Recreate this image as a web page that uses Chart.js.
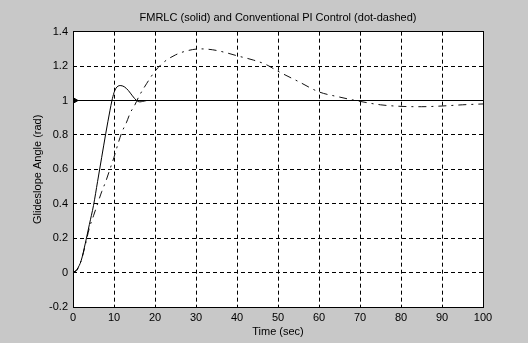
<!DOCTYPE html>
<html>
<head>
<meta charset="utf-8">
<script src="https://cdn.jsdelivr.net/npm/chart.js@4"></script>
<style>
  html, body { margin: 0; padding: 0; background: #c8c8c8; }
  #wrap { width: 528px; height: 343px; }
</style>
</head>
<body>
<div id="wrap"><canvas id="chart"></canvas></div>
<script>
// FMRLC response (solid)
const fmrlcTime  = [0, 1, 2, 3, 4, 5, 6, 7, 8, 9, 9.5, 10, 10.5, 11.5, 12.5, 13.5, 14.5, 15.5, 16.3, 17, 18];
const fmrlcAngle = [0, 0.02, 0.07, 0.17, 0.28, 0.39, 0.53, 0.67, 0.81, 0.94, 1.0, 1.045, 1.072, 1.087, 1.08, 1.058, 1.027, 1.0, 0.992, 0.995, 1.0];

// conventional PI response (dot-dashed)
const piTime  = [0, 1, 2, 3, 4, 5, 6, 7, 8, 9, 10, 11, 12, 13, 14, 15, 16, 18, 20, 22, 25, 28, 31, 34, 37, 40, 44, 47, 50, 55, 60, 65, 70, 75, 80, 85, 90, 95, 100];
const piAngle = [0, 0.015, 0.07, 0.16, 0.26, 0.33, 0.40, 0.47, 0.53, 0.60, 0.67, 0.75, 0.82, 0.87, 0.93, 0.97, 1.02, 1.10, 1.17, 1.22, 1.265, 1.29, 1.30, 1.295, 1.28, 1.26, 1.235, 1.21, 1.17, 1.11, 1.05, 1.02, 0.995, 0.975, 0.966, 0.964, 0.968, 0.975, 0.98];

// reference glideslope
const refTime  = [0, 100];
const refAngle = [1, 1];

const xTicks = [0, 10, 20, 30, 40, 50, 60, 70, 80, 90, 100];
const yTicks = [-0.2, 0, 0.2, 0.4, 0.6, 0.8, 1, 1.2, 1.4];

const toPoints = (xs, ys) => xs.map((x, i) => ({ x: x, y: ys[i] }));
const crisp = p => Math.round(p - 0.5) + 0.5;

const frame = {
  id: 'frame',
  beforeDraw(chart) {
    const a = chart.chartArea, ctx = chart.ctx;
    ctx.save();
    ctx.fillStyle = '#c8c8c8';
    ctx.fillRect(0, 0, chart.width, chart.height);
    ctx.fillStyle = '#ffffff';
    ctx.fillRect(a.left, a.top, a.right - a.left, a.bottom - a.top);
    ctx.restore();
  },
  afterDraw(chart) {
    const a = chart.chartArea, ctx = chart.ctx;
    const l = crisp(a.left), r = crisp(a.right), t = crisp(a.top), b = crisp(a.bottom);
    ctx.save();
    ctx.strokeStyle = '#000';
    ctx.lineWidth = 1;
    ctx.setLineDash([]);
    ctx.strokeRect(l, t, r - l, b - t);
    ctx.restore();
  }
};

Chart.defaults.font.family = '"Liberation Sans", Arial, sans-serif';
Chart.defaults.font.size = 11;
Chart.defaults.color = '#000';

new Chart(document.getElementById('chart'), {
  type: 'line',
  data: {
    datasets: [
      {
        label: 'Reference',
        data: toPoints(refTime, refAngle),
        borderColor: '#000',
        borderWidth: 1,
        pointRadius: [5, 0],
        pointStyle: 'triangle',
        rotation: 90,
        pointBackgroundColor: '#000',
        pointBorderColor: '#000',
        tension: 0
      },
      {
        label: 'FMRLC',
        data: toPoints(fmrlcTime, fmrlcAngle),
        borderColor: '#000',
        borderWidth: 1,
        pointRadius: 0,
        cubicInterpolationMode: 'monotone'
      },
      {
        label: 'Conventional PI',
        data: toPoints(piTime, piAngle),
        borderColor: '#111',
        borderWidth: 1,
        borderDash: [8, 5, 2, 5],
        pointRadius: 0,
        cubicInterpolationMode: 'monotone'
      }
    ]
  },
  options: {
    responsive: true,
    maintainAspectRatio: false,
    animation: false,
    layout: { padding: { left: 0, right: 45, top: 0, bottom: 0 } },
    plugins: {
      legend: { display: false },
      tooltip: { enabled: false },
      title: {
        display: true,
        text: 'FMRLC (solid) and Conventional PI Control (dot-dashed)',
        fullSize: false,
        font: { size: 11, weight: 'normal' },
        padding: { top: 11, bottom: 7.47 }
      }
    },
    scales: {
      x: {
        type: 'linear',
        min: 0,
        max: 100,
        afterBuildTicks: s => { s.ticks = xTicks.map(v => ({ value: v })); },
        afterFit: s => { s.height = 36; },
        ticks: { padding: 4, maxRotation: 0 },
        grid: { color: '#000', drawTicks: false, lineWidth: 1 },
        border: { display: false, dash: [4, 3] },
        title: { display: true, text: 'Time (sec)', padding: { top: 0, bottom: 4 } }
      },
      y: {
        type: 'linear',
        min: -0.2,
        max: 1.4,
        afterBuildTicks: s => { s.ticks = yTicks.map(v => ({ value: v })); },
        afterFit: s => { s.width = 73; },
        ticks: { padding: 5, callback: v => String(Number(v.toFixed(1))) },
        grid: { color: '#000', drawTicks: false, lineWidth: 1 },
        border: { display: false, dash: [4, 3] },
        title: { display: true, text: 'Glideslope Angle (rad)', padding: { top: 31, bottom: 0 } }
      }
    }
  },
  plugins: [frame]
});
</script>
</body>
</html>
